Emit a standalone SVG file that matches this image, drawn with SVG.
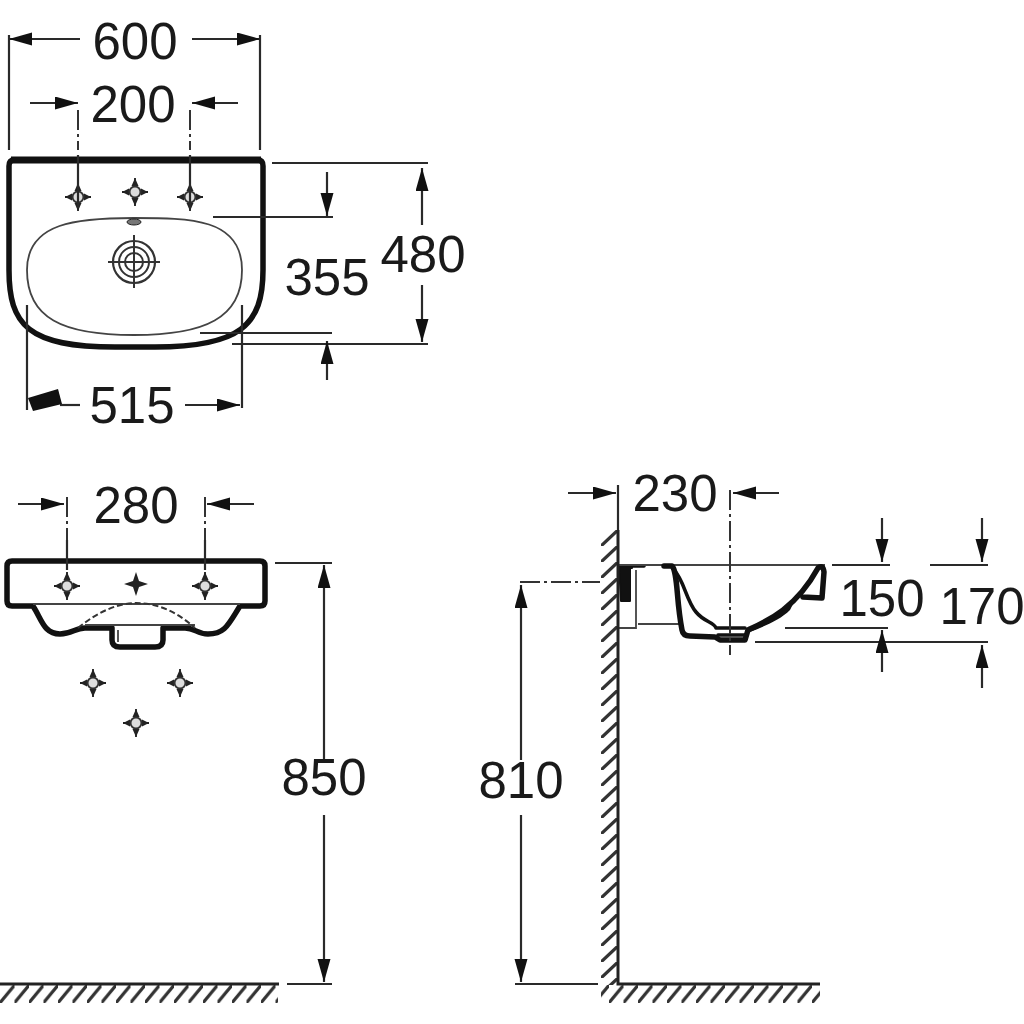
<svg xmlns="http://www.w3.org/2000/svg" xmlns:xlink="http://www.w3.org/1999/xlink" width="1024" height="1024" viewBox="0 0 1024 1024">
<style>
text{font-family:"Liberation Sans",Arial,sans-serif;font-size:51px;fill:#1a1a1a;text-anchor:middle}
.d{fill:none;stroke:#2a2a2a;stroke-width:2.2}
.a{fill:none;stroke:#2a2a2a;stroke-width:2.2;marker-end:url(#ah)}
.c{fill:none;stroke:#333;stroke-width:2;stroke-dasharray:20 4 3 4}
.t{fill:none;stroke:#111;stroke-width:5.5;stroke-linejoin:round;stroke-linecap:round}
.m{fill:none;stroke:#111;stroke-width:3.6;stroke-linejoin:round;stroke-linecap:round}
.n{fill:none;stroke:#444;stroke-width:1.8}
</style>
<defs>
<marker id="ah" markerUnits="userSpaceOnUse" markerWidth="24" markerHeight="14" refX="23" refY="6.5" orient="auto"><path d="M0 0L23 6.5L0 13Z" fill="#111"/></marker>
<pattern id="hf" patternUnits="userSpaceOnUse" width="14.5" height="18" x="0" y="985"><path d="M-1 19L15.5 -1" stroke="#333" stroke-width="3.2"/></pattern>
<pattern id="hw" patternUnits="userSpaceOnUse" width="17" height="16" x="601" y="530"><path d="M-1 17L18 -1" stroke="#333" stroke-width="3.2"/></pattern>
<g id="hole"><path d="M-13 0H13M0 -14V14" stroke="#222" stroke-width="1.8"/><path d="M-6 -3.5L-13 0L-6 3.5ZM6 -3.5L13 0L6 3.5ZM-3.5 -6L0 -14L3.5 -6ZM-3.5 6L0 14L3.5 6Z" fill="#222"/><circle r="5.5" fill="#ddd" stroke="#333" stroke-width="2"/></g>
<g id="hole-solid"><path d="M-12 0L-3 -3L0 -12L3 -3L12 0L3 3L0 12L-3 3Z" fill="#222"/></g>
</defs>
<g id="top-view">
<path class="t" d="M14 160H258Q263 160 263 166V270C263 325 240 347 155 347H115C28 347 9 325 9 270V166Q9 160 14 160Z"/>
<path d="M11 160H261" stroke="#111" stroke-width="7"/>
<path class="n" d="M134 218C190 218 242 218 242 270C242 318 205 335 134 335C62 335 27 318 27 270C27 222 78 218 134 218Z"/>
<ellipse cx="134" cy="222" rx="7" ry="3" fill="#777" stroke="#222"/>
<circle cx="134" cy="262" r="21" fill="none" stroke="#333" stroke-width="2.2"/><circle cx="134" cy="262" r="15" fill="none" stroke="#333" stroke-width="2"/><circle cx="134" cy="262" r="9" fill="none" stroke="#333" stroke-width="2"/>
<path d="M108 262H160M134 235V288" stroke="#333" stroke-width="2"/>
<use xlink:href="#hole" href="#hole" x="78" y="197"/><use xlink:href="#hole" href="#hole" x="135" y="192"/><use xlink:href="#hole" href="#hole" x="190" y="197"/>
</g>
<g id="front-view">
<path class="t" d="M12 561H260Q265 561 265 566V601Q265 606 260 606H240C228 625 225 634 208 634C197 634 195 628 185 628H163V640Q163 647 155 647H120Q112 647 112 640V628H85C75 628 72 634 60 634C44 634 42 620 33 606H12Q7 606 7 601V566Q7 561 12 561Z"/>
<path class="n" d="M33 604H240M85 625H195M118 630V642"/>
<path d="M78 628C100 610 120 603 136 603C155 603 175 610 195 628" fill="none" stroke="#333" stroke-width="2" stroke-dasharray="6 3"/>
<use xlink:href="#hole" href="#hole" x="67" y="586"/><use xlink:href="#hole-solid" href="#hole-solid" x="136" y="584"/><use xlink:href="#hole" href="#hole" x="205" y="586"/>
<use xlink:href="#hole" href="#hole" x="93" y="683"/><use xlink:href="#hole" href="#hole" x="180" y="683"/><use xlink:href="#hole" href="#hole" x="136" y="723"/>
</g>
<g id="side-view">
<path d="M619 565H632V568H630V601H621Z" fill="#111" stroke="#111" stroke-width="2" stroke-linejoin="round"/>
<path class="m" d="M620 566H644"/>
<path class="n" d="M618 565H825M636 570V628H618M638 624H680"/>
<path class="t" d="M664 566H672C678 572 676 600 682 630Q683 636 690 636L715 637L720 640H745L748 630C765 622 795 610 818 568Q823 564 824 572L822 598L803 597"/>
<path class="m" d="M674 570C684 580 686 600 696 612C704 622 714 622 716 628H745M718 635H745"/>
<path d="M750 628C770 622 785 610 795 600L790 610C780 620 765 626 750 632Z" fill="#111"/>
</g>
<g id="walls">
<rect x="601" y="530" width="17" height="455" fill="url(#hw)"/>
<path d="M618 530V984H820" fill="none" stroke="#222" stroke-width="3"/>
<rect x="601" y="985" width="219" height="18" fill="url(#hf)"/>
<rect x="0" y="985" width="278" height="18" fill="url(#hf)"/>
<path d="M0 984H279" stroke="#222" stroke-width="3"/>
</g>
<g id="connectors">
<path class="d" d="M9 35V150M260 35V150"/>
<path class="a" d="M80 39H9"/><path class="a" d="M192 39H260"/>
<path class="a" d="M30 103H78"/><path class="a" d="M238 103H192"/>
<path class="c" d="M78 110V150M190 110V150"/>
<path class="d" d="M78 155V208M190 155V208M67 540V570M205 540V570"/>
<path class="d" d="M272 163H428M232 344H428M213 217H333M200 333H332"/>
<path class="a" d="M422 225V168"/><path class="a" d="M422 285V342"/>
<path class="a" d="M327 172V216"/><path class="a" d="M327 380V341"/>
<path class="d" d="M27 305V410M242 305V408"/>
<path class="d" d="M60 405H80"/><path d="M28 398L58 389L62 404L33 411Z" fill="#111"/>
<path class="a" d="M185 405H240"/>
<path class="a" d="M18 504H64"/><path class="a" d="M254 504H207"/>
<path class="c" d="M67 497V540M205 497V540"/>
<path class="d" d="M275 563H332M287 984H332"/>
<path class="a" d="M324 760V565"/><path class="a" d="M324 815V982"/>
<path class="a" d="M568 493H616"/><path class="a" d="M779 493H733"/>
<path class="d" d="M618 485V530"/>
<path class="c" d="M730 490V655"/>
<path class="c" d="M520 582H600"/>
<path class="d" d="M515 984H598M832 565H890M930 565H988M785 628H888M755 642H988"/>
<path class="a" d="M521 760V585"/><path class="a" d="M521 815V982"/>
<path class="a" d="M882 518V562"/><path class="a" d="M882 672V630"/>
<path class="a" d="M982 518V562"/><path class="a" d="M982 688V645"/>
</g>
<g id="labels">
<text x="135" y="59">600</text>
<text x="133" y="122">200</text>
<text x="423" y="272">480</text>
<text x="327" y="295">355</text>
<text x="132" y="423">515</text>
<text x="136" y="523">280</text>
<text x="324" y="795">850</text>
<text x="675" y="511">230</text>
<text x="521" y="798">810</text>
<text x="882" y="616">150</text>
<text x="982" y="624">170</text>
</g>
</svg>
